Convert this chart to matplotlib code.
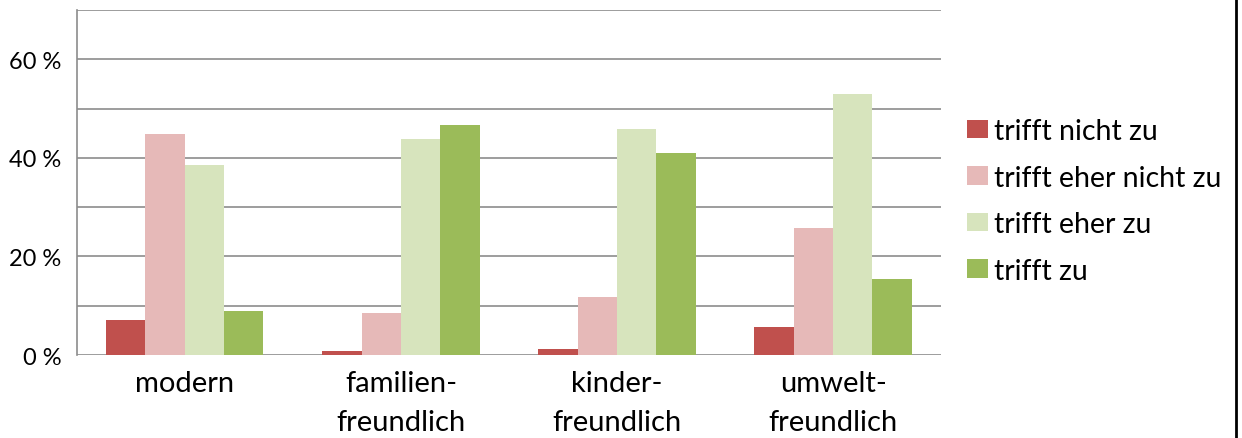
import matplotlib
matplotlib.use('Agg')
import matplotlib.pyplot as plt
import numpy as np

plt.rcParams['font.family'] = ['Lato', 'DejaVu Sans']

categories = ['modern', 'familien-\nfreundlich', 'kinder-\nfreundlich', 'umwelt-\nfreundlich']
series_names = ['trifft nicht zu', 'trifft eher nicht zu', 'trifft eher zu', 'trifft zu']
trifft_nicht_zu = [7.2, 0.75, 1.15, 5.6]
trifft_eher_nicht_zu = [44.8, 8.6, 11.8, 25.8]
trifft_eher_zu = [38.6, 43.8, 45.8, 52.9]
trifft_zu = [8.9, 46.7, 40.9, 15.4]

values = [trifft_nicht_zu, trifft_eher_nicht_zu, trifft_eher_zu, trifft_zu]
colors = ['#C0504D', '#E6B9B8', '#D7E4BD', '#9BBB59']

fig = plt.figure(figsize=(12.42, 4.39), dpi=100)
ax = fig.add_axes([0.0618, 0.189, 0.696, 0.786])

x = np.arange(len(categories))
width = 0.182
for i, (vals, name, col) in enumerate(zip(values, series_names, colors)):
    ax.bar(x + (i - 1.5) * width, vals, width, color=col, label=name, zorder=3)

ax.set_xlim(-0.5, len(categories) - 0.5)
ax.set_ylim(0, 70)
ax.set_yticks(np.arange(0, 71, 10))
ax.set_yticklabels(['0 %', '', '20 %', '', '40 %', '', '60 %', ''])
ax.yaxis.grid(True, color='#8c8c8c', linewidth=1.2, zorder=0)
ax.set_axisbelow(True)
ax.tick_params(axis='y', length=0, labelsize=17, pad=11)
ax.tick_params(axis='x', length=0, labelsize=21, pad=11)
ax.set_xticks(x)
ax.set_xticklabels(categories, linespacing=1.6)

for s in ['top', 'right', 'bottom']:
    ax.spines[s].set_visible(False)
ax.spines['left'].set_color('#8c8c8c')
ax.spines['left'].set_linewidth(1.2)

leg = ax.legend(loc='center left', bbox_to_anchor=(1.0, 0.447), frameon=False,
                fontsize=20.5, handlelength=0.76, handleheight=0.62,
                handletextpad=0.2, labelspacing=0.72)

# thin black border on the right edge of the image
fig.add_artist(plt.Line2D([0.9955, 0.9955], [0, 1], color='black', linewidth=2,
                          transform=fig.transFigure))

fig.savefig('out.png', dpi=100)
